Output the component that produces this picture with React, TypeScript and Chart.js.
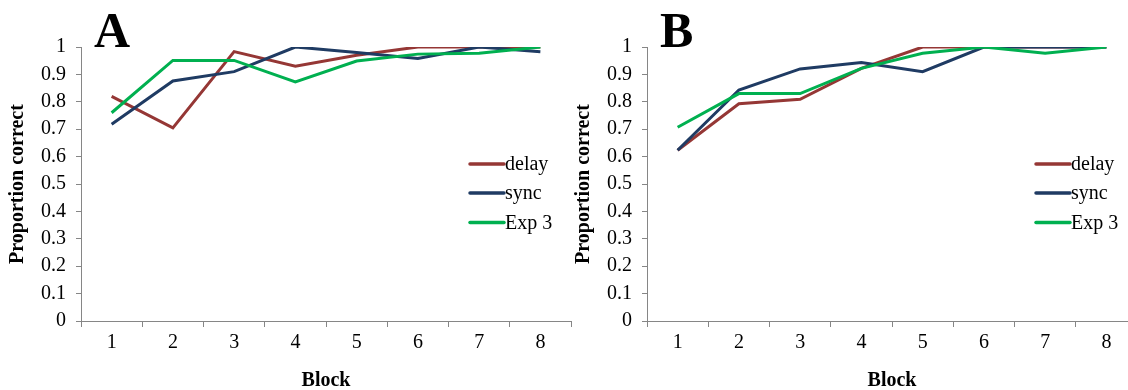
import React, { useEffect, useRef } from "react";
import { Chart, registerables } from "chart.js";

Chart.register(...registerables);

const blocks = ["1", "2", "3", "4", "5", "6", "7", "8"];
const seriesNames = ["delay", "sync", "Exp 3"];
const seriesColors = ["#953735", "#1F3B63", "#00B050"];

const delayA = [0.82, 0.705, 0.983, 0.93, 0.97, 1, 1, 1];
const syncA = [0.718, 0.876, 0.91, 1, 0.98, 0.958, 1, 0.983];
const exp3A = [0.76, 0.951, 0.951, 0.873, 0.949, 0.974, 0.977, 1];

const delayB = [0.623, 0.793, 0.809, 0.922, 1, 1, 1, 1];
const syncB = [0.623, 0.843, 0.92, 0.943, 0.91, 1, 1, 1];
const exp3B = [0.707, 0.83, 0.83, 0.922, 0.977, 1, 0.977, 1];

const FONT = "'Liberation Serif', 'Times New Roman', serif";
const AXIS_GRAY = "#868686";
const CW = 576;
const CH = 390;

function Panel({ letter, series, left }: { letter: string; series: number[][]; left: number }) {
  const ref = useRef<HTMLCanvasElement | null>(null);

  useEffect(() => {
    if (!ref.current) return;
    const overlay = {
      id: "overlay",
      afterDraw(chart: any) {
        const ctx = chart.ctx;
        ctx.save();
        // panel letter
        ctx.fillStyle = "#000";
        ctx.font = `bold 50px ${FONT}`;
        ctx.textAlign = "left";
        ctx.textBaseline = "alphabetic";
        ctx.fillText(letter, 94, 47);
        // legend
        const ys = [164, 193, 222.5];
        ctx.font = `20px ${FONT}`;
        ctx.textBaseline = "middle";
        seriesNames.forEach((name, i) => {
          ctx.strokeStyle = seriesColors[i];
          ctx.lineWidth = 3.5;
          ctx.lineCap = "round";
          ctx.beginPath();
          ctx.moveTo(470, ys[i]);
          ctx.lineTo(504, ys[i]);
          ctx.stroke();
          ctx.fillStyle = "#000";
          ctx.fillText(name, 505, ys[i] + 1);
        });
        ctx.restore();
      },
    };

    const chart = new Chart(ref.current, {
      type: "line",
      data: {
        labels: blocks,
        datasets: series.map((vals, i) => ({
          label: seriesNames[i],
          data: vals,
          borderColor: seriesColors[i],
          backgroundColor: seriesColors[i],
          borderWidth: 3,
          pointRadius: 0,
          tension: 0,
          fill: false,
          order: 3 - i,
        })),
      },
      options: {
        responsive: false,
        animation: false,
        devicePixelRatio: 1,
        layout: { padding: { left: 0, top: 47, right: 5, bottom: 0 } },
        plugins: {
          legend: { display: false },
          tooltip: { enabled: false },
        },
        scales: {
          x: {
            type: "category",
            offset: true,
            grid: {
              offset: true,
              drawOnChartArea: false,
              drawTicks: true,
              tickLength: 6,
              color: AXIS_GRAY,
            },
            border: { display: true, color: AXIS_GRAY, width: 1 },
            ticks: {
              color: "#000",
              font: { family: FONT, size: 20 },
              padding: 4,
              maxRotation: 0,
            },
            title: {
              display: true,
              text: "Block",
              color: "#000",
              font: { family: FONT, size: 20, weight: "bold" },
              padding: { top: 0, bottom: -3 },
            },
            afterFit: (s: any) => {
              s.height = 69;
            },
          },
          y: {
            min: 0,
            max: 1,
            grid: {
              drawOnChartArea: false,
              drawTicks: true,
              tickLength: 5,
              color: AXIS_GRAY,
            },
            border: { display: true, color: AXIS_GRAY, width: 1 },
            ticks: {
              stepSize: 0.1,
              color: "#000",
              font: { family: FONT, size: 20 },
              padding: 10,
              callback: (v: any) => String(Number(Number(v).toFixed(1))),
            },
            title: {
              display: true,
              text: "Proportion correct",
              color: "#000",
              font: { family: FONT, size: 20, weight: "bold" },
              padding: { top: 6, bottom: 0 },
            },
            afterFit: (s: any) => {
              s.width = 81;
            },
          },
        },
      },
      plugins: [overlay],
    } as any);
    return () => chart.destroy();
  }, [letter, series]);

  return (
    <canvas
      ref={ref}
      width={CW}
      height={CH}
      style={{ position: "absolute", left, top: 0, width: CW, height: CH }}
    />
  );
}

const seriesA = [delayA, syncA, exp3A];
const seriesB = [delayB, syncB, exp3B];

export default function App() {
  return (
    <div
      style={{
        position: "fixed",
        left: 0,
        top: 0,
        width: 1128,
        height: 390,
        overflow: "hidden",
        background: "#fff",
      }}
    >
      <Panel letter="A" series={seriesA} left={0} />
      <Panel letter="B" series={seriesB} left={566} />
    </div>
  );
}
